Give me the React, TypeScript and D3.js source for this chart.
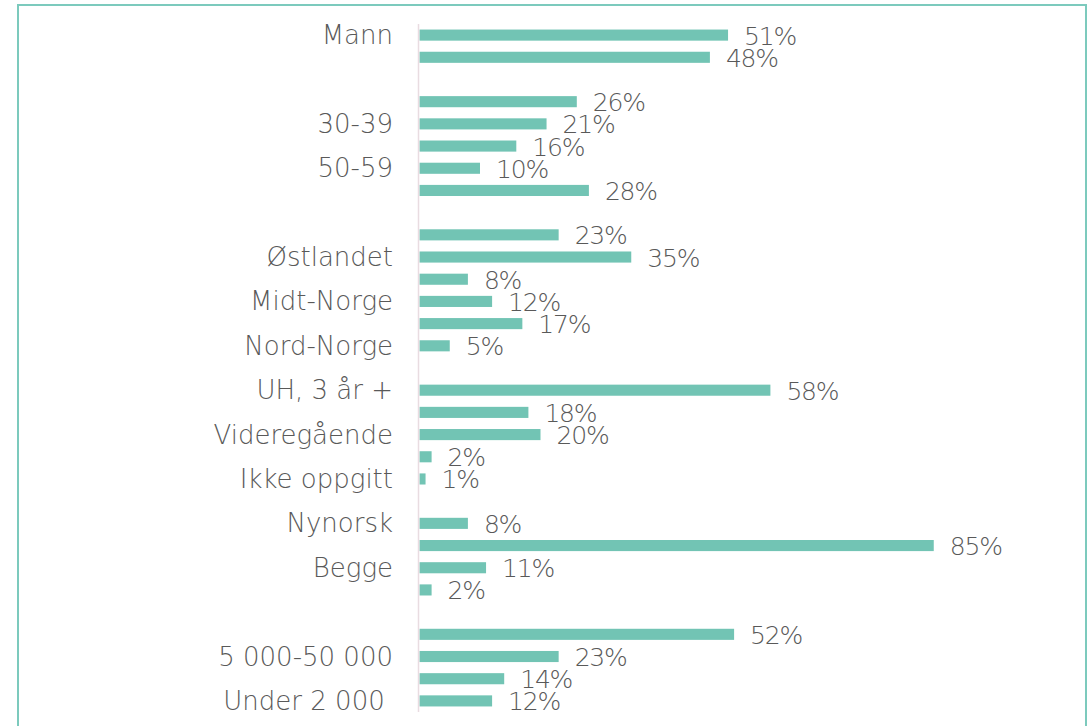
import React from "react";
import * as d3 from "d3";

// Category labels (Excel shows only every other label; unlabeled rows are "")
const categories: string[] = [
  "Mann", "", "", "", "30-39", "", "50-59", "", "", "", "Østlandet", "",
  "Midt-Norge", "", "Nord-Norge", "", "UH, 3 år +", "", "Videregående", "",
  "Ikke oppgitt", "", "Nynorsk", "", "Begge", "", "", "", "5 000-50 000", "",
  "Under 2 000 ",
];

// Share of respondents per row (null = spacer row)
const values: (number | null)[] = [
  0.51, 0.48, null, 0.26, 0.21, 0.16, 0.10, 0.28, null, 0.23, 0.35, 0.08,
  0.12, 0.17, 0.05, null, 0.58, 0.18, 0.20, 0.02, 0.01, null, 0.08, 0.85,
  0.11, 0.02, null, 0.52, 0.23, 0.14, 0.12,
];

const W = 1089;
const H = 726;
const FONT = "'DejaVu Sans', sans-serif";
const TEXT = "#595959";
const BAR = "#72C4B4";
const FRAME = "#7CCABD";

export default function App() {
  const idx = values.map((_, i) => String(i));
  const y = d3.scaleBand<string>().domain(idx).range([24, 712]).paddingInner(0.5).paddingOuter(0.25);
  const x = d3.scaleLinear().domain([0, 1]).range([419.5, 1024.5]);
  const fmt = d3.format(".0%");

  return (
    <svg width={W} height={H} style={{ position: "absolute", left: 0, top: 0, background: "#fff" }}>
      <rect x={18} y={5} width={1068} height={760} fill="#fff" stroke={FRAME} strokeWidth={2} />
      {values.map((v, i) =>
        v == null ? null : (
          <rect
            key={"b" + i}
            x={x(0)}
            y={y(String(i))!}
            width={x(v) - x(0)}
            height={y.bandwidth()}
            fill={BAR}
          />
        )
      )}
      <line x1={418.5} x2={418.5} y1={24} y2={712} stroke="#E9DCE1" strokeWidth={1.5} />
      {categories.map((c, i) =>
        i % 2 === 0 && c ? (
          <text
            key={"c" + i}
            x={393}
            y={y(String(i))! + y.bandwidth() / 2}
            textAnchor="end"
            dominantBaseline="central"
            fontFamily={FONT}
            fontWeight={200}
            fontSize={26}
            fill={TEXT}
            style={{ whiteSpace: "pre" }}
          >
            {c}
          </text>
        ) : null
      )}
      {values.map((v, i) =>
        v == null ? null : (
          <text
            key={"v" + i}
            x={x(v) + 16}
            y={y(String(i))! + y.bandwidth() / 2 + 1}
            dominantBaseline="central"
            fontFamily={FONT}
            fontWeight={200}
            fontSize={25}
            letterSpacing={-1.2}
            fill={TEXT}
          >
            {fmt(v)}
          </text>
        )
      )}
    </svg>
  );
}
